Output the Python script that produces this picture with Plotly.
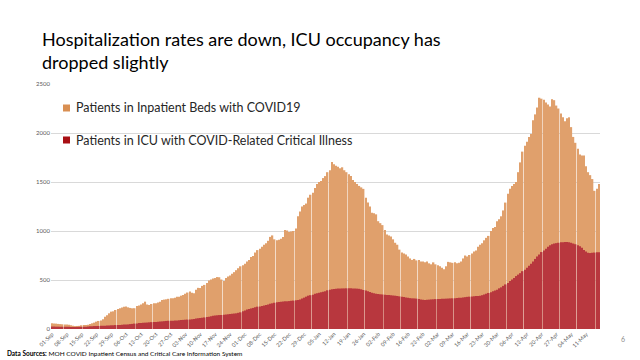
import pandas as pd
import plotly.graph_objects as go

# ---- data (daily, 01-Sep to 17-May) ----
dates = list(pd.date_range("2020-09-01", periods=259, freq="D").strftime("%d-%b"))

inpatient_beds = [
    58, 57, 55, 52, 50, 48, 47,
    45, 43, 38, 33, 30, 31, 32,
    38, 41, 40, 44, 52, 58, 65,
    75, 82, 88, 100, 126, 140, 160,
    177, 180, 194, 205, 211, 220, 228,
    230, 221, 215, 211, 212, 235, 240,
    250, 262, 279, 250, 245, 255, 262,
    262, 270, 279, 296, 300, 303, 308,
    313, 313, 320, 330, 328, 340, 347,
    360, 372, 382, 370, 365, 400, 420,
    418, 440, 450, 470, 495, 505, 515,
    520, 530, 528, 505, 490, 520, 535,
    545, 565, 580, 600, 620, 640, 650,
    665, 690, 705, 735, 745, 780, 805,
    820, 840, 860, 875, 900, 940, 955,
    915, 905, 910, 920, 940, 1010, 1005,
    990, 995, 1000, 1025, 1150, 1200, 1250,
    1265, 1280, 1340, 1370, 1390, 1440, 1480,
    1500, 1510, 1540, 1560, 1600, 1620, 1705,
    1680, 1665, 1655, 1640, 1650, 1620, 1600,
    1580, 1560, 1520, 1500, 1480, 1460, 1445,
    1430, 1340, 1290, 1250, 1185, 1180, 1170,
    1100, 1080, 1060, 1010, 965, 955, 945,
    915, 880, 860, 810, 780, 770, 760,
    740, 720, 705, 715, 700, 705, 690,
    690, 680, 690, 670, 660, 680, 660,
    650, 640, 625, 610, 640, 685, 680,
    675, 680, 670, 675, 690, 720, 750,
    740, 755, 770, 790, 800, 840, 860,
    875, 905, 930, 950, 1000, 1030, 1040,
    1100, 1120, 1150, 1210, 1290, 1380, 1430,
    1460, 1480, 1500, 1600, 1700, 1810, 1870,
    1910, 1960, 1990, 2130, 2190, 2260, 2360,
    2350, 2340, 2310, 2290, 2270, 2345, 2335,
    2280, 2250, 2200, 2160, 2120, 2150, 2160,
    2060, 1960, 1900, 1840, 1780, 1770, 1770,
    1660, 1600, 1570, 1530, 1410, 1430, 1480,
]

icu_critical = [
    25, 25, 24, 24, 23, 23, 22,
    22, 22, 21, 21, 20, 21, 22,
    22, 23, 24, 26, 27, 28, 30,
    30, 31, 32, 33, 34, 35, 36,
    38, 38, 40, 40, 42, 44, 45,
    46, 47, 50, 52, 55, 57, 60,
    62, 63, 65, 66, 68, 70, 72,
    72, 74, 76, 78, 80, 82, 84,
    84, 85, 86, 88, 90, 92, 93,
    95, 96, 98, 100, 103, 106, 110,
    112, 115, 118, 122, 126, 130, 135,
    138, 140, 142, 143, 145, 148, 150,
    152, 155, 158, 160, 165, 170, 180,
    190, 198, 205, 210, 215, 222, 228,
    230, 235, 240, 245, 250, 258, 262,
    268, 272, 275, 278, 280, 282, 283,
    285, 288, 290, 293, 296, 300, 310,
    320, 330, 340, 345, 350, 360, 365,
    370, 375, 380, 385, 395, 400, 405,
    408, 410, 412, 413, 414, 414, 415,
    415, 415, 414, 413, 412, 410, 405,
    398, 392, 385, 378, 370, 365, 360,
    357, 354, 352, 350, 348, 347, 345,
    342, 340, 337, 333, 330, 326, 322,
    318, 315, 313, 312, 310, 305, 300,
    298, 296, 298, 300, 302, 303, 305,
    306, 307, 308, 309, 310, 311, 312,
    313, 314, 316, 318, 320, 322, 325,
    328, 330, 332, 335, 337, 338, 340,
    345, 352, 360, 368, 375, 385, 392,
    400, 415, 425, 440, 455, 470, 490,
    505, 520, 540, 555, 570, 590, 605,
    625, 645, 665, 690, 715, 740, 760,
    785, 800, 820, 840, 855, 865, 872,
    876, 880, 884, 886, 888, 887, 885,
    880, 872, 865, 855, 845, 830, 805,
    790, 778, 775, 778, 780, 782, 783,
]

y_ticks = [0, 500, 1000, 1500, 2000, 2500]
x_ticks = dates[::7]

series_names = [
    "Patients in Inpatient Beds with COVID19",
    "Patients in ICU with COVID-Related Critical Illness",
]
title_lines = ["Hospitalization rates are down, ICU occupancy has", "dropped slightly"]
source_text = "<b>Data Sources:</b> MOH COVID Inpatient Census and Critical Care Information System"

ORANGE = "#E0A06C"
RED = "#B8373E"
LEG_ORANGE = "#D98F52"
LEG_RED = "#A80F14"

# ---- layout geometry (pixels) ----
W, H = 640, 360
ML, MR, MT, MB = 51, 40, 84, 31
PW, PH = W - ML - MR, H - MT - MB


def px(x):
    return (x - ML) / PW


def py(y):
    return (H - MB - y) / PH


fig = go.Figure()
fig.add_bar(x=dates, y=inpatient_beds, name=series_names[0],
            marker=dict(color=ORANGE, line=dict(width=0)))
fig.add_bar(x=dates, y=icu_critical, name=series_names[1],
            marker=dict(color=RED, line=dict(width=0)))

fig.update_layout(
    width=W, height=H,
    margin=dict(l=ML, r=MR, t=MT, b=MB),
    paper_bgcolor="white", plot_bgcolor="white",
    barmode="overlay", bargap=0.3,
    showlegend=False,
    font=dict(family="Lato", color="#595959"),
)
fig.update_xaxes(
    type="category", tickmode="array", tickvals=x_ticks, ticktext=x_ticks,
    tickangle=-45, tickfont=dict(size=5.5, color="#595959"),
    showgrid=False, showline=False, zeroline=False, ticks="",
)
fig.update_yaxes(
    range=[0, 2500], tickmode="array", tickvals=y_ticks,
    tickfont=dict(size=6, color="#595959"),
    showgrid=True, gridcolor="#D9D9D9", gridwidth=1,
    showline=False, zeroline=False, ticks="",
)

ann = []
# title
for line, cy in zip(title_lines, [39, 62]):
    ann.append(dict(text=line, x=px(40), y=py(cy), xref="paper", yref="paper",
                    xanchor="left", yanchor="middle", showarrow=False,
                    font=dict(family="Lato", size=18, color="#000000")))
# manual legend
shapes = []
for i, (name, col) in enumerate(zip(series_names, [LEG_ORANGE, LEG_RED])):
    cy = 108 + 32 * i
    shapes.append(dict(type="rect", xref="paper", yref="paper",
                       x0=px(63), x1=px(70), y0=py(cy + 3.5), y1=py(cy - 3.5),
                       fillcolor=col, line=dict(width=0)))
    ann.append(dict(text=name, x=px(74), y=py(cy), xref="paper", yref="paper",
                    xanchor="left", yanchor="middle", showarrow=False,
                    font=dict(family="Lato", size=12.5, color="#262626")))
# source & page number
ann.append(dict(text=source_text, x=px(5), y=py(353), xref="paper", yref="paper",
                xanchor="left", yanchor="middle", showarrow=False,
                font=dict(family="Lato", size=6.5, color="#000000")))
ann.append(dict(text="6", x=px(623), y=py(339), xref="paper", yref="paper",
                xanchor="center", yanchor="middle", showarrow=False,
                font=dict(family="Lato", size=7, color="#8C8C8C")))

fig.update_layout(annotations=ann, shapes=shapes)
fig.write_html(
    "out.html",
    config={"displayModeBar": False},
    post_script="document.body.style.margin='0';document.body.style.padding='0';",
)
